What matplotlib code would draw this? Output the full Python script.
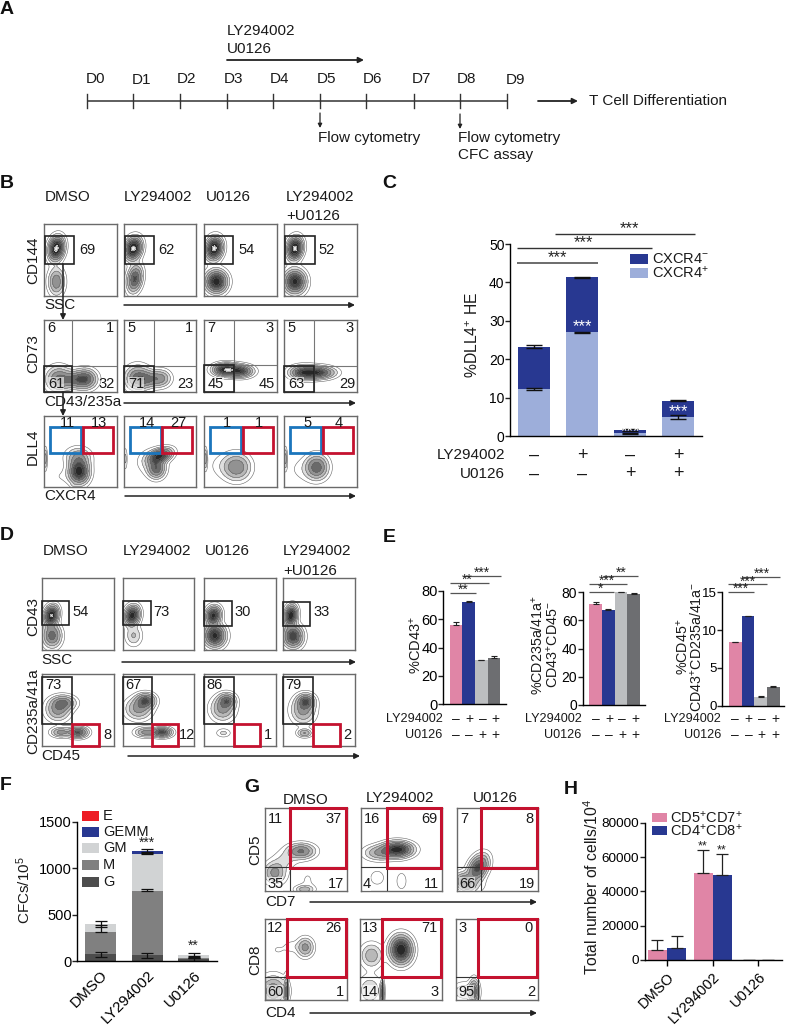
import numpy as np
import matplotlib
matplotlib.use('Agg')
from matplotlib import pyplot as plt
from matplotlib.patches import Rectangle

plt.rcParams['font.family'] = ['Liberation Sans', 'DejaVu Sans']
plt.rcParams['mathtext.default'] = 'regular'
plt.rcParams['axes.linewidth'] = 1.0

W, H = 800, 1026

PINK = '#E085A6'
NAVY = '#283891'
LIGHTBLUE = '#9DAEDA'
LGREY = '#BCBEC0'
DGREY = '#6D6E71'
RED = '#C4122F'
BLUE = '#1B75BC'
FRAME = '#6a6a6a'

# panel A
days = ['D0', 'D1', 'D2', 'D3', 'D4', 'D5', 'D6', 'D7', 'D8', 'D9']
day_ticks = [87, 133, 180, 227, 273, 320, 366, 414, 460, 507]
day_text_x = [86, 132, 177, 224, 270, 317, 363, 412, 457, 506]

# panel C
c_pos = [12.2, 27.0, 0.7, 4.9]
c_neg = [11.1, 14.3, 0.8, 4.3]
c_pos_err = [0.3, 0.2, 0.1, 0.5]
c_neg_err = [0.4, 0.2, 0.2, 0.2]
ly_signs = ['–', '+', '–', '+']
u0_signs = ['–', '–', '+', '+']

# panel E
e1_vals = [56, 72, 31, 33]
e1_err = [2.2, 0.8, 0.6, 0.8]
e2_vals = [72, 67.5, 80, 79]
e2_err = [1.2, 0.4, 0.2, 0.5]
e3_vals = [8.4, 11.8, 1.15, 2.5]
e3_err = [0.05, 0.08, 0.1, 0.15]

# panel F
f_groups = ['DMSO', 'LY294002', 'U0126']
f_g = [75, 65, 20]
f_m = [240, 690, 20]
f_gm = [85, 400, 30]
f_gemm = [0, 25, 0]
f_e = [0, 10, 0]
f_g_err = [30, 25, 15]
f_m_err = [70, 25, 20]
f_gm_err = [30, 5, 20]
f_top_err = [0, 20, 0]

# panel H
h_cd57 = [5800, 50500, 150]
h_cd48 = [7000, 49500, 150]
h_cd57_err = [5700, 13500, 0]
h_cd48_err = [7000, 12000, 0]

# flow plots: each blob is (x, y, sx, sy, height, tilt in degrees)
b1_blobs = [
    [(.17, .66, .06, .095, .95, -10), (.17, .20, .065, .11, .35, 0)],
    [(.13, .66, .065, .09, .95, -15), (.15, .24, .06, .11, .55, -10)],
    [(.14, .66, .065, .09, .95, -10), (.17, .20, .085, .09, .8, 0)],
    [(.15, .66, .06, .09, .95, -10), (.15, .20, .085, .095, .75, 0)],
]
b2_blobs = [
    [(.20, .18, .10, .10, .4, 0), (.42, .17, .11, .07, .35, 0), (.57, .18, .09, .08, .45, 0)],
    [(.19, .19, .10, .10, .45, 0), (.36, .18, .10, .07, .3, 0), (.52, .19, .08, .07, .25, 0)],
    [(.30, .31, .10, .05, .85, 0), (.50, .29, .10, .05, .6, 0)],
    [(.27, .27, .11, .055, .6, 0), (.47, .27, .13, .05, .6, 0)],
]
b3_blobs = [
    [(.48, .22, .08, .10, .8, 0), (.47, .42, .10, .08, .25, 0), (.25, .15, .12, .07, .03, 0),
     (.02, .40, .015, .09, .2, 0), (.40, .03, .025, .02, .04, 0)],
    [(.50, .44, .10, .055, .7, 20), (.45, .26, .07, .08, .45, 0), (.38, .35, .12, .11, .1, 0),
     (.02, .40, .015, .09, .1, 0)],
    [(.45, .28, .11, .11, .35, 0), (.28, .30, .14, .11, .05, 0), (.02, .40, .015, .09, .2, 0)],
    [(.45, .28, .09, .10, .45, 0), (.30, .25, .15, .11, .05, 0), (.02, .40, .015, .09, .2, 0)],
]
d1_blobs = [
    [(.13, .48, .055, .08, .9, -15), (.14, .20, .075, .095, .45, 0)],
    [(.13, .48, .06, .08, .8, -15), (.15, .20, .07, .085, .16, 0)],
    [(.13, .48, .06, .075, .75, -15), (.15, .20, .085, .09, .75, 0)],
    [(.11, .48, .05, .08, .85, -10), (.14, .19, .08, .09, .65, 0)],
]
d2_blobs = [
    [(.22, .50, .10, .09, .3, 0), (.30, .60, .10, .06, .35, 0), (.26, .19, .08, .04, .3, 0),
     (.50, .19, .08, .045, .55, 0)],
    [(.22, .52, .11, .09, .3, 0), (.32, .63, .08, .06, .5, 0), (.32, .19, .09, .04, .3, 0),
     (.55, .19, .08, .04, .6, 0)],
    [(.26, .52, .10, .10, .3, 0), (.32, .63, .07, .06, .4, 0), (.27, .18, .06, .035, .1, 0)],
    [(.28, .50, .10, .11, .3, 0), (.32, .62, .07, .06, .45, 0), (.30, .18, .06, .035, .25, 0)],
]
g1_blobs = [
    [(.44, .48, .10, .055, .4, 0), (.12, .22, .08, .08, .3, 0), (.52, .12, .07, .11, .035, 0),
     (.25, .38, .09, .07, .09, 0), (.48, .02, .07, .03, .2, 0)],
    [(.45, .50, .11, .055, .8, 0), (.22, .46, .11, .055, .25, 0), (.20, .16, .055, .055, .08, 0),
     (.50, .12, .055, .09, .05, 0)],
    [(.26, .28, .065, .10, .6, -30), (.10, .10, .08, .06, .5, -30), (.30, .08, .055, .07, .035, 0)],
]
g2_blobs = [
    [(.49, .65, .06, .07, .3, 0), (.32, .66, .06, .045, .06, 0), (.16, .62, .06, .045, .035, 0),
     (.10, .11, .10, .11, .35, 0), (.26, .10, .015, .11, .35, 0)],
    [(.50, .62, .08, .10, .85, 0), (.14, .55, .08, .09, .22, 0), (.12, .12, .09, .11, .15, 0),
     (.27, .08, .015, .09, .4, 0)],
    [(.22, .10, .035, .09, .45, 0), (.10, .10, .09, .07, .15, 0)],
]

LEVELS = [.03, .08, .15, .25, .38, .52, .68, .88, 50]
FILLS = ['#ffffff', '#dedede', '#b8b8b8', '#929292', '#6a6a6a', '#464646', '#282828', '#ececec']

fig = plt.figure(figsize=(W / 100, H / 100), dpi=100, facecolor='white')


def px_axes(x0, y0, x1, y1, **kw):
    return fig.add_axes([x0 / W, 1 - y1 / H, (x1 - x0) / W, (y1 - y0) / H], **kw)


def density(blobs):
    xs = np.linspace(0, 1, 160)
    gx, gy = np.meshgrid(xs, xs)
    z = np.zeros_like(gx)
    for cx, cy, sx, sy, amp, tilt in blobs:
        t = np.radians(tilt)
        u = (gx - cx) * np.cos(t) + (gy - cy) * np.sin(t)
        v = -(gx - cx) * np.sin(t) + (gy - cy) * np.cos(t)
        z += amp * np.exp(-.5 * (u / sx) ** 2 - .5 * (v / sy) ** 2)
    return gx, gy, z


def flow_plot(x0, y0, x1, y1, blobs):
    ax = px_axes(x0, y0, x1, y1)
    gx, gy, z = density(blobs)
    ax.contourf(gx, gy, z, levels=LEVELS, colors=FILLS)
    ax.contour(gx, gy, z, levels=LEVELS[:-1], colors='#666666', linewidths=.4)
    ax.set_xlim(0, 1)
    ax.set_ylim(0, 1)
    ax.set_xticks([])
    ax.set_yticks([])
    for s in ax.spines.values():
        s.set_color(FRAME)
        s.set_linewidth(1.0)
    return ax


def gate(ax, x0, y0, x1, y1, color='#222222', lw=1.2):
    ax.add_patch(Rectangle((x0, y0), x1 - x0, y1 - y0, fill=False, ec=color, lw=lw, zorder=5,
                           clip_on=False))


def cross(ax, x, y, color='#777777'):
    ax.axvline(x, color=color, lw=.8, zorder=4)
    ax.axhline(y, color=color, lw=.8, zorder=4)


def bar_axes(x0, y0, x1, y1, ylim, yticks, xlim, size):
    ax = px_axes(x0, y0, x1, y1)
    ax.set_xlim(*xlim)
    ax.set_ylim(*ylim)
    ax.set_yticks(yticks)
    ax.tick_params(axis='y', labelsize=size, length=3.4, width=1, pad=.5, color='#222222')
    ax.spines['top'].set_visible(False)
    ax.spines['right'].set_visible(False)
    ax.patch.set_alpha(0)
    return ax


# flow columns and rows first, overlay last
b_cols = [(44, 117), (124, 196), (204, 277), (284, 357)]
d_cols = [(42, 114), (123, 194), (204, 276), (283, 355)]
g_cols1 = [(265, 347), (361, 442), (457, 538)]
g_cols2 = [(265, 347), (360, 442), (456, 538)]

b1_axes = [flow_plot(c[0], 224, c[1], 296, b) for c, b in zip(b_cols, b1_blobs)]
b2_axes = [flow_plot(c[0], 320, c[1], 392, b) for c, b in zip(b_cols, b2_blobs)]
b3_axes = [flow_plot(c[0], 416, c[1], 487, b) for c, b in zip(b_cols, b3_blobs)]
d1_axes = [flow_plot(c[0], 578, c[1], 650, b) for c, b in zip(d_cols, d1_blobs)]
d2_axes = [flow_plot(c[0], 674, c[1], 746, b) for c, b in zip(d_cols, d2_blobs)]
g1_axes = [flow_plot(c[0], 808, c[1], 891, b) for c, b in zip(g_cols1, g1_blobs)]
g2_axes = [flow_plot(c[0], 919, c[1], 1000, b) for c, b in zip(g_cols2, g2_blobs)]

for ax, gx in zip(b1_axes, [.41, .42, .40, .42]):
    gate(ax, .02, .44, gx, .84)
for ax, cx, cy in zip(b2_axes, [.39, .42, .41, .41], [.36, .36, .38, .36]):
    cross(ax, cx, cy)
    gate(ax, 0, 0, cx, cy)
for ax in b3_axes:
    gate(ax, .08, .48, .51, .84, BLUE, 2)
    gate(ax, .53, .48, .95, .84, RED, 2)
for ax, gx, gb, gt in zip(d1_axes, [.38, .39, .39, .37], [.35, .35, .33, .33], [.68, .68, .68, .66]):
    gate(ax, 0, gb, gx, gt)
for ax, bx in zip(d2_axes, [.42, .41, .41, .42]):
    gate(ax, 0, .30, bx, .96)
    gate(ax, bx, 0, bx + .37, .31, RED, 2)
for ax, cx in zip(g1_axes, [.30, .32, .30]):
    cross(ax, cx, .29, '#333333')
    gate(ax, cx, .28, .99, 1.0, RED, 2.2)
for ax, cx in zip(g2_axes, [.27, .27, .27]):
    cross(ax, cx, .29, '#333333')
    gate(ax, cx, .29, .99, 1.0, RED, 2.2)

# panel C
ax_c = bar_axes(510, 244, 702, 436, (0, 50), [0, 10, 20, 30, 40, 50], (-.5, 3.5), 10)
c_x = np.arange(4)
ax_c.bar(c_x, c_pos, width=.667, color=LIGHTBLUE)
ax_c.bar(c_x, c_neg, width=.667, bottom=c_pos, color=NAVY)
ec = dict(fmt='none', ecolor='#111111', elinewidth=1, capsize=5.5, capthick=1)
ax_c.errorbar(c_x, c_pos, yerr=c_pos_err, **ec)
ax_c.errorbar(c_x, np.add(c_pos, c_neg), yerr=c_neg_err, **ec)
ax_c.set_xticks([])

# panel E
e_specs = [
    (443, 505.7, 591, 704.3, e1_vals, e1_err, (0, 80), [0, 20, 40, 60, 80], 456, 10.5),
    (582.7, 645, 592.3, 705, e2_vals, e2_err, (0, 80), [0, 20, 40, 60, 80], 595.7, 10),
    (722.3, 784.3, 592.3, 705.7, e3_vals, e3_err, (0, 15), [0, 5, 10, 15], 735.3, 9.5),
]
e_axes = []
for x0, x1, y0, y1, vals, errs, yl, yt, first, size in e_specs:
    step = 12.67
    ax = bar_axes(x0, y0, x1, y1, yl, yt, ((x0 - first) / step, (x1 - first) / step), size)
    ax.bar(np.arange(4), vals, width=1, color=[PINK, NAVY, LGREY, DGREY])
    ax.errorbar(np.arange(4), vals, yerr=[np.zeros(4), errs], fmt='none', ecolor='#222222',
                elinewidth=.8, capsize=2.5, capthick=.8, clip_on=False)
    ax.set_xticks([])
    e_axes.append(ax)

# panel F
ax_f = bar_axes(77.3, 821.7, 216.7, 961.3, (0, 1500), [0, 500, 1000, 1500],
                ((77.3 - 100.5) / 46.6, (216.7 - 100.5) / 46.6), 10.5)
f_x = np.arange(3)
bottom = np.zeros(3)
f_tops = []
for vals, col in zip([f_g, f_m, f_gm, f_gemm, f_e], ['#4D4D4D', '#808080', '#D1D3D4', NAVY, '#ED1C24']):
    ax_f.bar(f_x, vals, width=.665, bottom=bottom, color=col)
    bottom = bottom + np.array(vals)
    f_tops.append(bottom.copy())
ec = dict(fmt='none', ecolor='#111111', elinewidth=.9, capsize=4, capthick=.9)
ax_f.errorbar(f_x, f_tops[0], yerr=f_g_err, **ec)
ax_f.errorbar(f_x, f_tops[1], yerr=[np.zeros(3), f_m_err], **ec)
ax_f.errorbar(f_x, f_tops[2], yerr=f_gm_err, **ec)
ax_f.errorbar(f_x[1], f_tops[4][1], yerr=f_top_err[1], **ec)
ax_f.set_xticks(f_x, f_groups, rotation=45, ha='right', rotation_mode='anchor', fontsize=11)
ax_f.tick_params(axis='x', length=0, pad=5)

# panel H
ax_h = bar_axes(644.7, 822.7, 781.7, 960, (0, 80000), [0, 20000, 40000, 60000, 80000],
                ((644.7 - 667) / 45.7, (781.7 - 667) / 45.7), 9.7)
h_x = np.arange(3)
ax_h.bar(h_x - .208, h_cd57, width=.416, color=PINK)
ax_h.bar(h_x + .208, h_cd48, width=.416, color=NAVY)
ec = dict(fmt='none', ecolor='#222222', elinewidth=.9, capsize=4.5, capthick=.9)
ax_h.errorbar(h_x - .208, h_cd57, yerr=[np.zeros(3), h_cd57_err], **ec)
ax_h.errorbar(h_x + .208, h_cd48, yerr=[np.zeros(3), h_cd48_err], **ec)
ax_h.set_xticks(h_x, f_groups, rotation=45, ha='right', rotation_mode='anchor', fontsize=10.5)
ax_h.tick_params(axis='x', length=4, width=1, pad=3)

# overlay in image pixels, for all loose text and lines
ov = fig.add_axes([0, 0, 1, 1], zorder=20)
ov.set_xlim(0, W)
ov.set_ylim(H, 0)
ov.axis('off')
ov.patch.set_alpha(0)


def txt(x, y, s, size=11, ha='left', va='center', **kw):
    ov.text(x, y, s, fontsize=size, ha=ha, va=va, color=kw.pop('color', '#1a1a1a'), **kw)


def arrow(x0, y0, x1, y1, lw=1.1, ms=8):
    ov.annotate('', xy=(x1, y1), xytext=(x0, y0),
                arrowprops=dict(arrowstyle='-|>', color='#222222', lw=lw, mutation_scale=ms,
                                shrinkA=0, shrinkB=0))


def line(x0, x1, y, color='#333333', lw=1):
    ov.plot([x0, x1], [y, y], color=color, lw=lw, solid_capstyle='butt')


def stars(x, y, s, size=11, color='#222222'):
    ov.text(x, y, s, fontsize=size, ha='center', va='center', color=color)


WHITE_BOX = dict(fc='white', ec='none', pad=0, alpha=.6)

for letter, x, y in [('A', 0, 10), ('B', 0, 183), ('C', 382, 183), ('D', 0, 536), ('E', 383, 538),
                     ('F', 0, 786), ('G', 244, 788), ('H', 564, 789)]:
    txt(x, y, letter, size=14, fontweight='bold', color='#111111')

# panel A text and timeline
line(day_ticks[0], day_ticks[-1], 101, '#333333', 1.1)
for d, t, tx in zip(days, day_ticks, day_text_x):
    ov.plot([t, t], [94, 108], color='#333333', lw=1)
    txt(tx, 80 if d in ('D1', 'D9') else 79, d)
txt(227, 31, 'LY294002')
txt(227, 49, 'U0126')
arrow(227, 60, 364, 60, 1.3)
arrow(538, 101, 578, 101, 1.3)
txt(589, 101, 'T Cell Differentiation')
arrow(320, 113, 320, 128, .9, 6)
arrow(460, 114, 460, 129, .9, 6)
txt(318, 138, 'Flow cytometry')
txt(458, 138, 'Flow cytometry')
txt(458, 155, 'CFC assay')

# panel B text
for x, s in zip([45, 124, 206, 286], ['DMSO', 'LY294002', 'U0126', 'LY294002']):
    txt(x, 197, s)
txt(286, 216, '+U0126')
txt(33, 260, 'CD144', ha='center', rotation=90)
txt(33, 354, 'CD73', ha='center', rotation=90)
txt(33, 447, 'DLL4', ha='center', rotation=90)
txt(44, 305, 'SSC')
txt(44, 402, 'CD43/235a')
txt(44, 496, 'CXCR4')
arrow(124, 305, 355, 305)
arrow(124, 403, 356, 403)
arrow(125, 496, 356, 496)
arrow(63, 264, 63, 320)
arrow(63, 392, 63, 416)
for x, s in zip([79, 158, 238, 318], ['69', '62', '54', '52']):
    txt(x, 250, s, 10.5)
b2_nums = [('6', '1', '61', '32'), ('5', '1', '71', '23'), ('7', '3', '45', '45'), ('5', '3', '63', '29')]
for c, (tl, tr, bl, br) in zip(b_cols, b2_nums):
    txt(c[0] + 3, 328, tl, 10.5)
    txt(c[1] - 3, 328, tr, 10.5, ha='right')
    txt(c[0] + 4, 384, bl, 10.5, bbox=WHITE_BOX)
    txt(c[1] - 2, 384, br, 10.5, ha='right')
b3_nums = [('11', '13'), ('14', '27'), ('1', '1'), ('5', '4')]
for c, (a, b) in zip(b_cols, b3_nums):
    wid = c[1] - c[0]
    txt(c[0] + .32 * wid, 423, a, 10.5, ha='center')
    txt(c[0] + .75 * wid, 423, b, 10.5, ha='center')

# panel C text
txt(473, 335, '%DLL4$^{+}$ HE', 11.3, ha='center', rotation=90)
line(517, 598, 262.7, '#444444', 1.1)
line(517, 652, 248, '#333333', 1)
line(555, 695, 233.7, '#333333', 1)
stars(557.7, 258, '***', 12)
stars(583, 243, '***', 12)
stars(629, 229, '***', 12)
stars(582, 327, '***', 12, color='white')
stars(630, 432, '***', 12, color='white')
stars(678, 412, '***', 12, color='white')
for y, col, s in [(254, NAVY, 'CXCR4$^{-}$'), (268, LIGHTBLUE, 'CXCR4$^{+}$')]:
    ov.add_patch(Rectangle((630, y), 18, 10, fc=col, ec='none'))
    txt(652, y + 5, s, 10.5)
txt(505, 455, 'LY294002', ha='right')
txt(505, 474, 'U0126', ha='right')
for x, a, b in zip([534, 582, 630, 678], ly_signs, u0_signs):
    txt(x, 455, a, 13, ha='center')
    txt(x, 474, b, 13, ha='center')

# panel D text
for x, s in zip([43, 123, 205, 283], ['DMSO', 'LY294002', 'U0126', 'LY294002']):
    txt(x, 551, s)
txt(283, 571, '+U0126')
txt(33, 616, 'CD43', ha='center', rotation=90)
txt(33, 711, 'CD235a/41a', ha='center', rotation=90)
txt(41, 660, 'SSC')
txt(41, 756, 'CD45')
arrow(122, 662, 356, 662)
arrow(128, 756, 360, 756)
for x, s in zip([72, 153, 234, 313], ['54', '73', '30', '33']):
    txt(x, 612, s, 10.5)
for x, s in zip([45, 125, 206, 285], ['73', '67', '86', '79']):
    txt(x, 685, s, 10.5)
for x, s in zip([103, 179, 264, 343], ['8', '12', '1', '2']):
    txt(x, 735, s, 10.5)

# panel E text
txt(416, 645, '%CD43$^{+}$', 10.5, ha='center', rotation=90)
txt(538, 645, '%CD235a/41a$^{+}$', 10.3, ha='center', rotation=90)
txt(553, 645, 'CD43$^{+}$CD45$^{-}$', 10.3, ha='center', rotation=90)
txt(683, 647, '%CD45$^{+}$', 10.3, ha='center', rotation=90)
txt(697, 647, 'CD43$^{+}$CD235a/41a$^{-}$', 10.3, ha='center', rotation=90)
e_sig = [
    [(449.7, 476, 592.7, '**', 463), (449.7, 489, 583, '**', 467), (462.7, 501, 575.7, '***', 482)],
    [(589, 614.3, 591.7, '*', 601), (589, 626.7, 584, '***', 607), (602.7, 638.3, 576, '**', 621)],
    [(728.3, 754.3, 592, '***', 741), (728.3, 766.7, 584.3, '***', 748), (741.7, 780, 576.7, '***', 762)],
]
for sig in e_sig:
    for x0, x1, y, s, sx in sig:
        line(x0, x1, y, '#555555', .9)
        stars(sx, y - 3, s, 10)
e_first = [456, 595.7, 735.3]
e_right = [442.7, 581.7, 721]
for first, right in zip(e_first, e_right):
    txt(right, 719, 'LY294002', 9.1, ha='right')
    txt(right, 735, 'U0126', 9.1, ha='right')
    for i in range(4):
        txt(first + i * 13.2, 719, ly_signs[i], 10, ha='center')
        txt(first + i * 13.2, 735, u0_signs[i], 10, ha='center')

# panel F text
txt(24, 890, 'CFCs/10$^{5}$', 11, ha='center', rotation=90)
f_names = ['E', 'GEMM', 'GM', 'M', 'G']
f_cols = ['#ED1C24', NAVY, '#D1D3D4', '#808080', '#4D4D4D']
for y, n, col in zip([811, 827, 843, 860, 877], f_names, f_cols):
    ov.add_patch(Rectangle((82, y), 17, 9.5, fc=col, ec='none'))
    txt(103, y + 5, n, 10.5)
stars(147, 843, '***', 10)
stars(193, 946, '**', 10)

# panel G text
txt(306, 800, 'DMSO', ha='center')
txt(400, 798, 'LY294002', ha='center')
txt(495, 798, 'U0126', ha='center')
txt(255, 850, 'CD5', ha='center', rotation=90)
txt(255, 960, 'CD8', ha='center', rotation=90)
txt(265, 902, 'CD7')
txt(265, 1013, 'CD4')
arrow(310, 902, 537, 902)
arrow(310, 1013, 537, 1013)
g1_nums = [('11', '37', '35', '17'), ('16', '69', '4', '11'), ('7', '8', '66', '19')]
g2_nums = [('12', '26', '60', '1'), ('13', '71', '14', '3'), ('3', '0', '95', '2')]
for c, (tl, tr, bl, br) in zip(g_cols1, g1_nums):
    txt(c[0] + 3, 819, tl, 10.5)
    txt(c[1] - 5, 819, tr, 10.5, ha='right')
    txt(c[0] + 2, 884, bl, 10.5, bbox=WHITE_BOX)
    txt(c[1] - 3, 884, br, 10.5, ha='right')
for c, (tl, tr, bl, br) in zip(g_cols2, g2_nums):
    txt(c[0] + 2, 928, tl, 10.5)
    txt(c[1] - 5, 928, tr, 10.5, ha='right')
    txt(c[0] + 2, 992, bl, 10.5, bbox=WHITE_BOX)
    txt(c[1] - 3, 992, br, 10.5, ha='right')

# panel H text
txt(592, 887, 'Total number of cells/10$^{4}$', 11.3, ha='center', rotation=90)
for y, col, s in [(813, PINK, 'CD5$^{+}$CD7$^{+}$'), (826, NAVY, 'CD4$^{+}$CD8$^{+}$')]:
    ov.add_patch(Rectangle((652, y), 15, 9, fc=col, ec='none'))
    txt(670, y + 4.5, s, 10.5)
stars(703, 846, '**', 9)
stars(722, 850, '**', 9)

fig.savefig('out.png', dpi=100)
